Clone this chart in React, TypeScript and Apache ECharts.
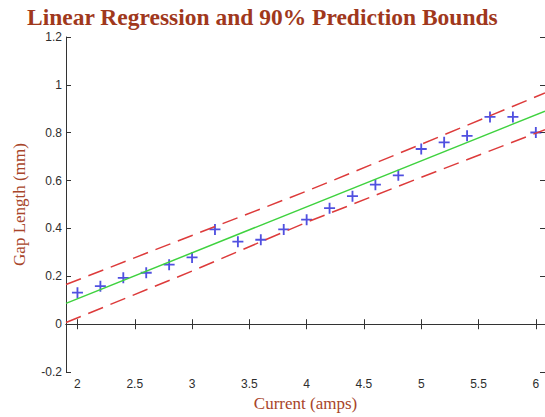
import React, { useEffect, useRef } from "react";
import * as echarts from "echarts";

const currentAmps = [2.0, 2.2, 2.4, 2.6, 2.8, 3.0, 3.2, 3.4, 3.6, 3.8, 4.0, 4.2, 4.4, 4.6, 4.8, 5.0, 5.2, 5.4, 5.6, 5.8, 6.0];
const gapLength = [0.132, 0.159, 0.194, 0.215, 0.249, 0.279, 0.396, 0.345, 0.353, 0.396, 0.437, 0.485, 0.535, 0.583, 0.622, 0.732, 0.76, 0.787, 0.866, 0.866, 0.801];

const fitX = [1.9, 6.08];
const fitY = [0.087, 0.89];

const boundX = [1.9, 3.0, 4.0, 5.0, 6.08];
const upperBound = [0.166, 0.371, 0.556, 0.752, 0.966];
const lowerBound = [0.007, 0.222, 0.426, 0.614, 0.813];

const xTicks = [2, 2.5, 3, 3.5, 4, 4.5, 5, 5.5, 6];

const titleText = "Linear Regression and 90% Prediction Bounds";
const xName = "Current (amps)";
const yName = "Gap Length (mm)";

export default function App() {
  const ref = useRef<HTMLDivElement>(null);
  useEffect(() => {
    if (!ref.current) return;
    const chart = echarts.init(ref.current, null, { renderer: "svg" });
    const axisColor = "#333333";
    const nameColor = "#a8452a";
    const labelStyle = { color: "#2e2e2e", fontFamily: "Liberation Sans", fontSize: 12 };
    const xMin = 1.9;
    const xMax = 6.08;
    const plus = "path://M5,0H7V5H12V7H7V12H5V7H0V5H5Z";
    chart.setOption({
      animation: false,
      backgroundColor: "#ffffff",
      title: {
        text: titleText,
        left: 27,
        top: 4,
        padding: 0,
        textStyle: { fontFamily: "Liberation Serif", fontWeight: "bold", fontSize: 23.5, lineHeight: 26, color: "#a0381c" },
      },
      grid: { left: 66, top: 37, width: 482, height: 337, containLabel: false },
      xAxis: [
        {
          type: "value",
          position: "bottom",
          min: xMin,
          max: xMax,
          name: xName,
          nameLocation: "middle",
          nameGap: 22,
          nameTextStyle: { fontFamily: "Liberation Serif", fontSize: 17, color: nameColor, verticalAlign: "top" },
          axisLine: { show: true, lineStyle: { color: axisColor, width: 1 } },
          axisTick: { show: true, inside: true, length: 5, customValues: xTicks, lineStyle: { color: axisColor } },
          axisLabel: { ...labelStyle, margin: 6, customValues: xTicks },
          splitLine: { show: false },
        },
        {
          type: "value",
          position: "top",
          min: xMin,
          max: xMax,
          axisLine: { show: true, lineStyle: { color: axisColor, width: 1 } },
          axisTick: { show: true, inside: true, length: 5, customValues: xTicks, lineStyle: { color: axisColor } },
          axisLabel: { show: false },
          splitLine: { show: false },
        },
      ],
      yAxis: [
        {
          type: "value",
          position: "left",
          min: -0.2,
          max: 1.2,
          interval: 0.2,
          name: yName,
          nameLocation: "middle",
          nameGap: 38,
          nameRotate: 90,
          nameTextStyle: { fontFamily: "Liberation Serif", fontSize: 17, color: nameColor },
          axisLine: { show: true, lineStyle: { color: axisColor, width: 1 } },
          axisTick: { show: true, inside: true, length: 5, lineStyle: { color: axisColor } },
          axisLabel: { ...labelStyle, margin: 4 },
          splitLine: { show: false },
        },
        {
          type: "value",
          position: "right",
          min: -0.2,
          max: 1.2,
          interval: 0.2,
          axisLine: { show: true, lineStyle: { color: axisColor, width: 1 } },
          axisTick: { show: true, inside: true, length: 5, lineStyle: { color: axisColor } },
          axisLabel: { show: false },
          splitLine: { show: false },
        },
      ],
      series: [
        {
          type: "line",
          name: "upper",
          data: boundX.map((x, i) => [x, upperBound[i]]),
          showSymbol: false,
          symbol: "none",
          lineStyle: { color: "#dd3b3b", width: 1.5, type: [16, 8] },
          silent: true,
        },
        {
          type: "line",
          name: "lower",
          data: boundX.map((x, i) => [x, lowerBound[i]]),
          showSymbol: false,
          symbol: "none",
          lineStyle: { color: "#dd3b3b", width: 1.5, type: [16, 8] },
          silent: true,
        },
        {
          type: "line",
          name: "fit",
          data: fitX.map((x, i) => [x, fitY[i]]),
          showSymbol: false,
          symbol: "none",
          lineStyle: { color: "#3fd23f", width: 1.5 },
          silent: true,
        },
        {
          type: "scatter",
          name: "data",
          data: currentAmps.map((x, i) => [x, gapLength[i]]),
          symbol: plus,
          symbolSize: 11,
          itemStyle: { color: "#2424d8" },
          silent: true,
        },
      ],
    });
    return () => chart.dispose();
  }, []);
  return <div ref={ref} style={{ position: "fixed", left: 0, top: 0, width: 545, height: 417 }} />;
}
